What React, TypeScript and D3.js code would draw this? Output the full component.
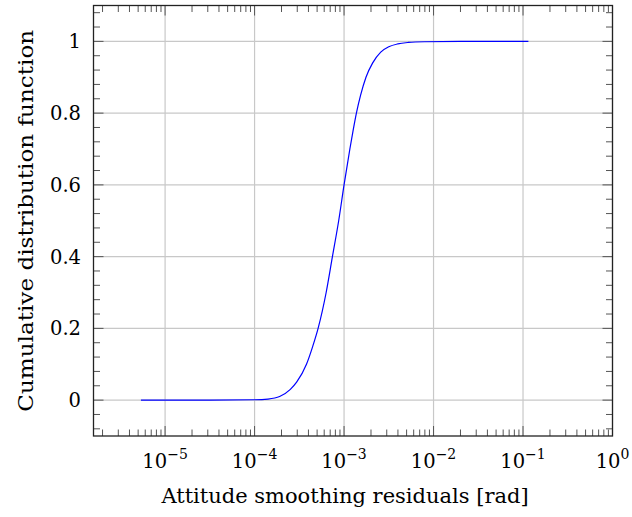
import React from "react";
import * as d3 from "d3";

const logX = [-5.27, -4.5, -4.0, -3.85, -3.72, -3.6, -3.53, -3.42, -3.35, -3.29, -3.2, -3.13, -3.06, -3.0, -2.935, -2.9, -2.862, -2.815, -2.755, -2.68, -2.59, -2.5, -2.4, -2.28, -2.1, -1.7, -0.94];
const cdf = [0, 0, 0.001, 0.003, 0.01, 0.03, 0.05, 0.1, 0.15, 0.2, 0.3, 0.4, 0.5, 0.6, 0.7, 0.75, 0.8, 0.85, 0.9, 0.94, 0.97, 0.985, 0.993, 0.997, 0.999, 1.0, 1.0];
const xMajorExp = [-5, -4, -3, -2, -1, 0];
const yMajor = [0, 0.2, 0.4, 0.6, 0.8, 1];
const yTickLabels = ["0", "0.2", "0.4", "0.6", "0.8", "1"];
const xTitle = "Attitude smoothing residuals [rad]";
const yTitle = "Cumulative distribution function";

const W = 632, H = 517;
const L = 93.5, R = 612.5, T = 5.5, B = 436;
const FONT = "'DejaVu Serif', serif";

export default function App() {
  const x = d3.scaleLog().domain([Math.pow(10, -5.8), 1]).range([L, R]);
  const y = d3.scaleLinear().domain([-0.1, 1.1]).range([B, T]);
  const pts: [number, number][] = logX.map((lx, i) => [Math.pow(10, lx), cdf[i]]);
  const line = d3.line<[number, number]>().x(d => x(d[0])).y(d => y(d[1])).curve(d3.curveMonotoneX);

  const xMinor: number[] = [];
  for (let k = -6; k < 0; k++) for (let m = 2; m <= 9; m++) {
    const v = m * Math.pow(10, k);
    if (v >= x.domain()[0] && v <= 1) xMinor.push(v);
  }
  const yMinor: number[] = [];
  for (let i = -2; i <= 27; i++) {
    const v = i * 0.04;
    if (v >= -0.1 && v <= 1.1 && Math.abs(Math.round(v * 5) - v * 5) > 1e-6) yMinor.push(v);
  }
  const tickCol = "#555";
  const MJ = 10, MN = 6.5;
  return (
    <svg width={W} height={H} style={{ position: "absolute", left: 0, top: 0 }}>
      <rect x={0} y={0} width={W} height={H} fill="white" />
      {xMajorExp.map(e => (
        <line key={"gx" + e} x1={x(Math.pow(10, e))} x2={x(Math.pow(10, e))} y1={T} y2={B} stroke="#c8c8c8" strokeWidth={1.2} />
      ))}
      {yMajor.map(v => (
        <line key={"gy" + v} x1={L} x2={R} y1={y(v)} y2={y(v)} stroke="#c8c8c8" strokeWidth={1.2} />
      ))}
      {xMinor.map((v, i) => (
        <g key={"xm" + i} stroke={tickCol} strokeWidth={1}>
          <line x1={x(v)} x2={x(v)} y1={B} y2={B - MN} />
          <line x1={x(v)} x2={x(v)} y1={T} y2={T + MN} />
        </g>
      ))}
      {xMajorExp.map(e => (
        <g key={"xM" + e} stroke={tickCol} strokeWidth={1}>
          <line x1={x(Math.pow(10, e))} x2={x(Math.pow(10, e))} y1={B} y2={B - MJ} />
          <line x1={x(Math.pow(10, e))} x2={x(Math.pow(10, e))} y1={T} y2={T + MJ} />
        </g>
      ))}
      {yMinor.map((v, i) => (
        <g key={"ym" + i} stroke={tickCol} strokeWidth={1}>
          <line x1={L} x2={L + MN} y1={y(v)} y2={y(v)} />
          <line x1={R} x2={R - MN} y1={y(v)} y2={y(v)} />
        </g>
      ))}
      {yMajor.map(v => (
        <g key={"yM" + v} stroke={tickCol} strokeWidth={1}>
          <line x1={L} x2={L + MJ} y1={y(v)} y2={y(v)} />
          <line x1={R} x2={R - MJ} y1={y(v)} y2={y(v)} />
        </g>
      ))}
      <path d={line(pts) || ""} fill="none" stroke="#0000ff" strokeWidth={1.2} />
      <rect x={L} y={T} width={R - L} height={B - T} fill="none" stroke="#222" strokeWidth={1.3} />
      {xMajorExp.map(e => (
        <text key={"xl" + e} x={x(Math.pow(10, e))} y={468} fontFamily={FONT} fontSize={19.5} textAnchor="middle" fill="#000">
          10<tspan dy={-9} fontSize={14}>{e === 0 ? "0" : "\u2212" + Math.abs(e)}</tspan>
        </text>
      ))}
      {yMajor.map((v, i) => (
        <text key={"yl" + v} x={81} y={y(v) + 7} fontFamily={FONT} fontSize={19.5} textAnchor="end" fill="#000">
          {yTickLabels[i]}
        </text>
      ))}
      <text x={345} y={503} fontFamily={FONT} fontSize={21} textAnchor="middle" fill="#000">{xTitle}</text>
      <text transform={`translate(33, ${(T + B) / 2}) rotate(-90)`} fontFamily={FONT} fontSize={20} textAnchor="middle" fill="#000" textLength={382} lengthAdjust="spacingAndGlyphs">{yTitle}</text>
    </svg>
  );
}
